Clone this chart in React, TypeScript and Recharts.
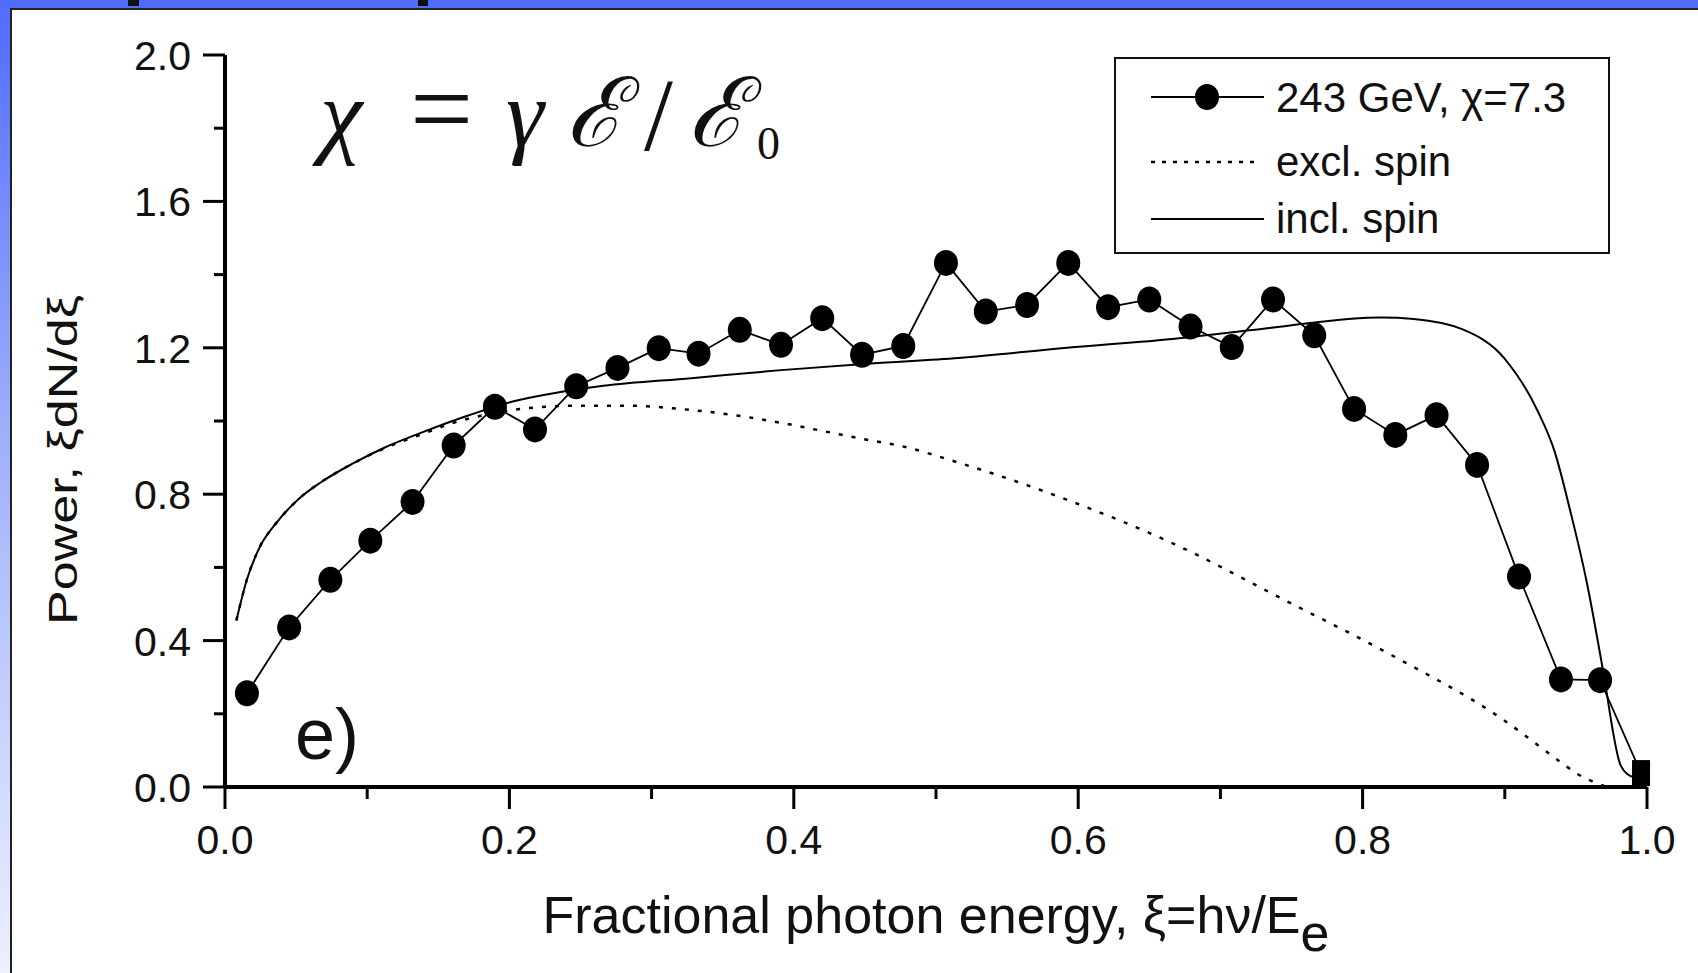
import { LineChart, Line, XAxis, YAxis } from "recharts"

// measured points, 243 GeV run
const markerX = [0.0154, 0.0451, 0.0741, 0.1022, 0.1319, 0.1608, 0.1898, 0.218, 0.247, 0.276, 0.305, 0.333, 0.362, 0.391, 0.42, 0.448, 0.477, 0.507, 0.535, 0.564, 0.593, 0.621, 0.65, 0.679, 0.708, 0.737, 0.766, 0.794, 0.823, 0.852, 0.8805, 0.91, 0.9395, 0.967, 0.9958]
const markerY = [0.256, 0.436, 0.566, 0.673, 0.779, 0.933, 1.039, 0.977, 1.095, 1.145, 1.199, 1.184, 1.249, 1.208, 1.281, 1.181, 1.205, 1.432, 1.299, 1.317, 1.432, 1.311, 1.332, 1.258, 1.202, 1.332, 1.234, 1.033, 0.962, 1.016, 0.88, 0.575, 0.294, 0.292, 0.038]

// theory, incl. spin
const inclX = [0.008, 0.0154, 0.0245, 0.036, 0.0512, 0.068, 0.09, 0.112, 0.14, 0.171, 0.203, 0.234, 0.266, 0.328, 0.391, 0.454, 0.516, 0.592, 0.668, 0.745, 0.79, 0.813, 0.836, 0.87, 0.9, 0.923, 0.935, 0.946, 0.9575, 0.9627, 0.969, 0.9817, 0.99]
const inclY = [0.455, 0.567, 0.656, 0.721, 0.785, 0.834, 0.884, 0.927, 0.971, 1.015, 1.054, 1.078, 1.096, 1.117, 1.139, 1.157, 1.172, 1.2, 1.225, 1.259, 1.279, 1.283, 1.279, 1.251, 1.17, 1.028, 0.917, 0.755, 0.562, 0.457, 0.32, 0.057, 0.027]

// theory, excl. spin
const exclX = [0.008, 0.0154, 0.0245, 0.036, 0.0512, 0.068, 0.09, 0.112, 0.14, 0.159, 0.187, 0.2186, 0.25, 0.281, 0.328, 0.36, 0.391, 0.4226, 0.454, 0.475, 0.516, 0.592, 0.668, 0.7445, 0.8205, 0.8966, 0.94, 0.95, 0.96, 0.972]
const exclY = [0.455, 0.567, 0.656, 0.721, 0.785, 0.834, 0.884, 0.925, 0.966, 0.993, 1.02, 1.037, 1.042, 1.042, 1.03, 1.015, 0.995, 0.971, 0.947, 0.932, 0.886, 0.785, 0.663, 0.512, 0.36, 0.19, 0.066, 0.038, 0.018, 0]

const xMajor = [0, 0.2, 0.4, 0.6, 0.8, 1.0]
const xMinor = [0.1, 0.3, 0.5, 0.7, 0.9]
const yMajor = [0, 0.4, 0.8, 1.2, 1.6, 2.0]
const yMinor = [0.2, 0.6, 1.0, 1.4, 1.8]

const legendLabels = ["243 GeV, χ=7.3", "excl. spin", "incl. spin"]

const SANS = '"Liberation Sans", Arial, sans-serif'
const SERIF = '"Liberation Serif", "Times New Roman", serif'
const INK = "#111"

const toPoints = (xs: number[], ys: number[]) => xs.map((x, i) => ({ x, y: ys[i] }))
const markers = toPoints(markerX, markerY)
const incl = toPoints(inclX, inclY)
const excl = toPoints(exclX, exclY)

const YTick = ({ x, y, payload }: any) => {
  const major = yMajor.includes(payload.value)
  return (
    <g>
      <line x1={x - (major ? 22 : 11)} x2={x} y1={y} y2={y} stroke="#000" strokeWidth={3} />
      {major && (
        <text x={x - 34} y={y + 15} textAnchor="end" fontSize={41} fill={INK} fontFamily={SANS}>
          {payload.value.toFixed(1)}
        </text>
      )}
    </g>
  )
}

const XTick = ({ x, y, payload }: any) => {
  const major = xMajor.includes(payload.value)
  return (
    <g>
      <line x1={x} x2={x} y1={y} y2={y + (major ? 22 : 12)} stroke="#000" strokeWidth={3} />
      {major && (
        <text x={x} y={y + 67} textAnchor="middle" fontSize={41} fill={INK} fontFamily={SANS}>
          {payload.value.toFixed(1)}
        </text>
      )}
    </g>
  )
}

const renderDot = (props: any) => {
  const { cx, cy, index } = props
  if (index === markerX.length - 1) {
    return <rect key={`d${index}`} x={cx - 9} y={cy - 13} width={18} height={26} fill="#000" />
  }
  return <ellipse key={`d${index}`} cx={cx} cy={cy} rx={12} ry={13} fill="#000" />
}

export default function App() {
  return (
    <div style={{ position: "absolute", left: 0, top: 0, width: 1698, height: 973, overflow: "hidden", background: "#fff" }}>
      <div style={{ position: "absolute", left: 0, top: 0, width: 1698, height: 8, background: "#4f6cfd" }} />
      <div
        style={{
          position: "absolute",
          left: 0,
          top: 0,
          width: 10,
          height: 973,
          background: "linear-gradient(to bottom, #4f6cfd, #9fb0fb 45%, #eef0ff)",
        }}
      />
      <div style={{ position: "absolute", left: 128, top: 0, width: 11, height: 6, background: "#111" }} />
      <div style={{ position: "absolute", left: 418, top: 0, width: 10, height: 6, background: "#111" }} />
      <div
        style={{
          position: "absolute",
          left: 10,
          top: 8,
          right: 0,
          bottom: 0,
          background: "#fff",
          borderLeft: "2px solid #222",
          borderTop: "2px solid #222",
        }}
      />

      <div style={{ position: "absolute", left: 0, top: 0 }}>
        <LineChart width={1698} height={973} margin={{ top: 55, right: 51, bottom: 86, left: 75 }}>
          <XAxis
            dataKey="x"
            type="number"
            domain={[0, 1]}
            ticks={[...xMajor, ...xMinor].sort((a, b) => a - b)}
            interval={0}
            height={100}
            tickSize={0}
            tickMargin={0}
            tickLine={false}
            tick={<XTick />}
            axisLine={{ stroke: "#000", strokeWidth: 4 }}
          />
          <YAxis
            type="number"
            domain={[0, 2]}
            ticks={[...yMajor, ...yMinor].sort((a, b) => a - b)}
            interval={0}
            width={150}
            tickSize={0}
            tickMargin={0}
            tickLine={false}
            tick={<YTick />}
            axisLine={{ stroke: "#000", strokeWidth: 4 }}
          />
          <Line
            data={excl}
            dataKey="y"
            type="monotone"
            stroke="#000"
            strokeWidth={2.5}
            strokeDasharray="4 9"
            dot={false}
            isAnimationActive={false}
          />
          <Line
            data={incl}
            dataKey="y"
            type="monotone"
            stroke="#000"
            strokeWidth={2}
            dot={false}
            isAnimationActive={false}
          />
          <Line
            data={markers}
            dataKey="y"
            type="linear"
            stroke="#000"
            strokeWidth={1.8}
            dot={renderDot}
            isAnimationActive={false}
          />
        </LineChart>
      </div>

      <svg
        width={1698}
        height={973}
        style={{ position: "absolute", left: 0, top: 0, pointerEvents: "none" }}
      >
        {/* formula */}
        <g fontFamily={SERIF} fill={INK}>
          <text x={320} y={146} fontSize={96} fontStyle="italic">χ</text>
          <text x={410} y={146} fontSize={112}>=</text>
          <text x={506} y={146} fontSize={96} fontStyle="italic">γ</text>
          <text x={566} y={146} fontSize={96} fontStyle="italic">ℰ</text>
          <text x={644} y={150} fontSize={104}>/</text>
          <text x={688} y={146} fontSize={96} fontStyle="italic">ℰ</text>
          <text x={757} y={159} fontSize={46}>0</text>
        </g>

        <text x={295} y={759} fontSize={72} fontFamily={SANS} fill={INK}>
          e)
        </text>

        {/* axis titles */}
        <text
          transform="translate(77,460) rotate(-90)"
          textAnchor="middle"
          fontSize={40}
          fontFamily={SANS}
          fill={INK}
          textLength={330}
          lengthAdjust="spacingAndGlyphs"
        >
          Power, ξdN/dξ
        </text>
        <text x={936} y={933} textAnchor="middle" fontSize={52} fontFamily={SANS} fill={INK}>
          Fractional photon energy, ξ=hν/E
          <tspan dy={18}>e</tspan>
        </text>

        {/* legend */}
        <rect x={1115} y={58} width={494} height={195} fill="#fff" stroke="#111" strokeWidth={2} />
        <line x1={1151} x2={1264} y1={97} y2={97} stroke="#000" strokeWidth={2} />
        <ellipse cx={1207} cy={97} rx={12} ry={13} fill="#000" />
        <line x1={1151} x2={1260} y1={162} y2={162} stroke="#000" strokeWidth={2.5} strokeDasharray="4 7" />
        <line x1={1151} x2={1264} y1={219} y2={219} stroke="#000" strokeWidth={2} />
        {legendLabels.map((t, i) => (
          <text key={t} x={1276} y={[112, 176, 233][i]} fontSize={42} fontFamily={SANS} fill={INK}>
            {t}
          </text>
        ))}
      </svg>
    </div>
  )
}
